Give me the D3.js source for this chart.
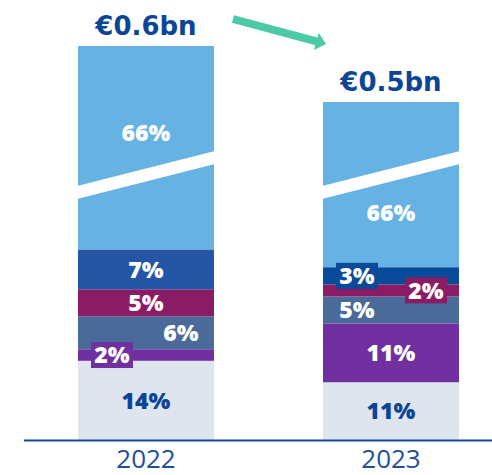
<!DOCTYPE html>
<html>
<head>
<meta charset="utf-8">
<script src="https://cdn.jsdelivr.net/npm/d3@7/dist/d3.min.js"></script>
<style>
  body { margin: 0; background: #fff; }
  svg { display: block; }
</style>
</head>
<body>
<div id="chart"></div>
<script>
// data
const years = ["2022", "2023"];
const totals = [0.6, 0.5];                       // € bn
const totalLabels = ["€0.6bn", "€0.5bn"];
const segments = ["base", "violet", "slate", "plum", "navy"];   // bottom -> top, below the break
const shares2022 = [14.4, 2.1, 6.0, 4.9, 7.2];
const shares2023 = [10.5, 10.7, 4.9, 2.2, 3.1];
const topShares = [66, 66];                      // the big broken segment

// styles / layout
const width = 492, height = 475;
const baseY = 440;
const colors = { base: "#dfe5ef", violet: "#7030a0", slate: "#4a6b9a", plum: "#8a1c66", navy: "#2556a6", top: "#66b2e2" };
const navy2023 = "#0a4a9a";
const darkText = "#0c4596";
// per label: x offset from bar centre, and whether it sits on a small badge
const labelLayout = {
  "2022": [{dx: 0}, {dx: -34, badge: true}, {dx: 35}, {dx: 0}, {dx: 0}],
  "2023": [{dx: 0}, {dx: 0}, {dx: -34}, {dx: 35, badge: true}, {dx: -34, badge: true}]
};
const breakY = 175;          // centre of the white cut through the top segment
const breakRise = 34.5, breakThick = 13;

const svg = d3.select("#chart").append("svg")
  .attr("width", width).attr("height", height);

const x = d3.scaleBand().domain(years).range([23.5, 513.5]).paddingInner(0.445).paddingOuter(0.2225);
const yPct = d3.scaleLinear().domain([0, 100]).range([baseY, baseY - 550]);
const yBn = d3.scaleLinear().domain([0.5, 0.6]).range([102, 46]);   // broken value axis for bar tops

const sharesByYear = { "2022": shares2022, "2023": shares2023 };

const bars = svg.selectAll(".bar")
  .data(years)
  .enter().append("g")
  .attr("class", "bar");

bars.each(function(year, yi) {
  const g = d3.select(this);
  const shares = sharesByYear[year];
  const x0 = x(year), bw = x.bandwidth(), cx = x0 + bw / 2;
  let cum = 0;
  const segs = shares.map((v, i) => {
    const s = { key: segments[i], value: v, y0: yPct(cum), y1: yPct(cum + v) };
    cum += v;
    return s;
  });
  const stackTop = yPct(cum);
  const barTop = yBn(totals[yi]);

  // top (66%) segment
  g.append("rect")
    .attr("x", x0).attr("width", bw)
    .attr("y", barTop).attr("height", stackTop - barTop)
    .attr("fill", colors.top);

  // white break
  const yl = breakY + breakRise / 2 - breakThick / 2, yr = breakY - breakRise / 2 - breakThick / 2;
  g.append("path")
    .attr("d", `M${x0 - 2},${yl + 0.5} L${x0 + bw + 2},${yr - 0.5} L${x0 + bw + 2},${yr + breakThick - 0.5} L${x0 - 2},${yl + breakThick + 0.5}Z`)
    .attr("fill", "#fff");

  g.append("text")
    .attr("x", cx)
    .attr("y", (breakY - barTop) > (stackTop - breakY) ? breakY - 42 : breakY + 38)
    .attr("class", "lbl")
    .attr("fill", "#fff")
    .text(topShares[yi] + "%");

  // small segments
  g.selectAll(".seg")
    .data(segs)
    .enter().append("rect")
    .attr("class", "seg")
    .attr("x", x0).attr("width", bw)
    .attr("y", d => d.y1).attr("height", d => d.y0 - d.y1)
    .attr("fill", d => (d.key === "navy" && year === "2023") ? navy2023 : colors[d.key]);

  segs.forEach((d, i) => {
    const lay = labelLayout[year][i];
    const ly = (d.y0 + d.y1) / 2;
    const fill = (d.key === "navy" && year === "2023") ? navy2023 : colors[d.key];
    if (lay.badge) {
      g.append("rect")
        .attr("x", cx + lay.dx - 21).attr("y", ly - 13)
        .attr("width", 42).attr("height", 26)
        .attr("fill", fill);
    }
    g.append("text")
      .attr("class", "lbl")
      .attr("x", cx + lay.dx).attr("y", ly)
      .attr("fill", d.key === "base" ? darkText : "#fff")
      .text(Math.round(d.value) + "%");
  });

  // total above bar
  g.append("text")
    .attr("x", cx).attr("y", barTop - 11)
    .attr("text-anchor", "middle")
    .style("font", "bold 26px 'DejaVu Sans'")
    .attr("fill", darkText)
    .text(totalLabels[yi]);
});

svg.selectAll(".lbl")
  .attr("text-anchor", "middle")
  .attr("dy", "0.36em")
  .style("font", "800 23px 'Open Sans'");

// x axis
const xAxis = svg.append("g")
  .attr("transform", `translate(0,${baseY})`)
  .call(d3.axisBottom(x).tickSize(0).tickPadding(10));
xAxis.select(".domain").attr("stroke", "#0e4a97").attr("stroke-width", 2);
xAxis.selectAll("text")
  .attr("fill", "#1d4f9c")
  .style("font", "26px 'Open Sans'");

// arrow from one total to the other
const ax0 = x(years[0]) + x.bandwidth() + 19, ay0 = yBn(totals[0]) - 27;
const ax1 = x(years[1]) + 3, ay1 = yBn(totals[1]) - 58;
const len = Math.hypot(ax1 - ax0, ay1 - ay0), ux = (ax1 - ax0) / len, uy = (ay1 - ay0) / len;
const nx = -uy, ny = ux, hw = 4, headLen = 10, headW = 9;
const bx = ax1 - ux * headLen, by = ay1 - uy * headLen;
const pts = [
  [ax0 + nx * hw, ay0 + ny * hw], [bx + nx * hw, by + ny * hw], [bx + nx * headW, by + ny * headW],
  [ax1, ay1],
  [bx - nx * headW, by - ny * headW], [bx - nx * hw, by - ny * hw], [ax0 - nx * hw, ay0 - ny * hw]
];
svg.append("path")
  .attr("d", d3.line()(pts) + "Z")
  .attr("fill", "#4ccaa7");
</script>
</body>
</html>
